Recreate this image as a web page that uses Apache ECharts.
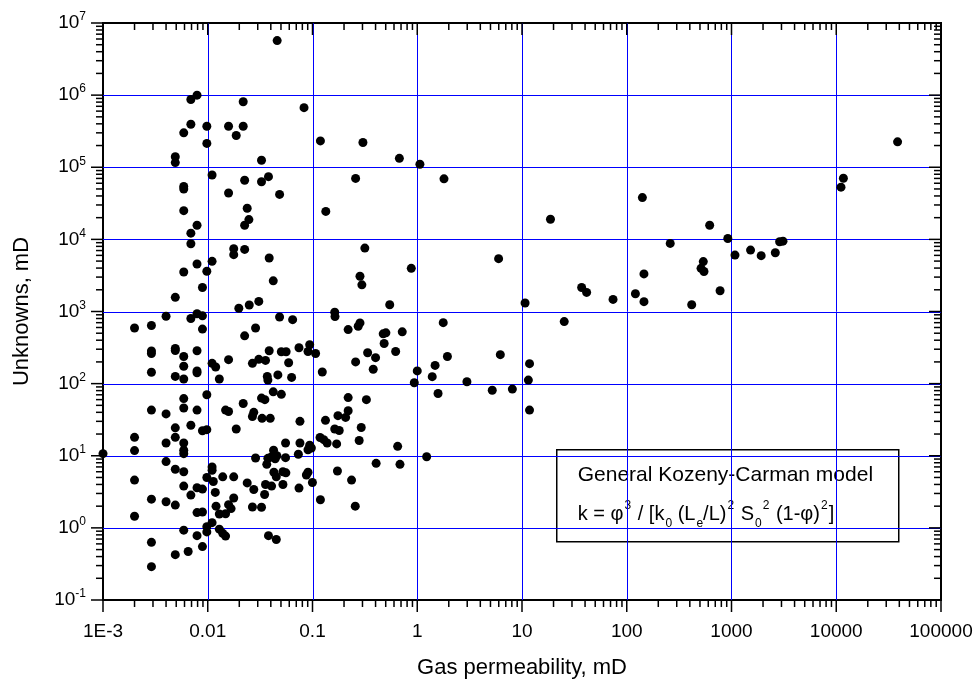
<!DOCTYPE html>
<html>
<head>
<meta charset="utf-8">
<title>Kozeny-Carman</title>
<script src="https://cdn.jsdelivr.net/npm/echarts@6/dist/echarts.min.js"></script>
<style>
  html, body { margin: 0; padding: 0; background: #fff; }
  #chart { width: 979px; height: 684px; }
</style>
</head>
<body>
<div id="chart"></div>
<script>
// tick labels
const xTickLabels = ['1E-3', '0.01', '0.1', '1', '10', '100', '1000', '10000', '100000']

// gas permeability, mD (x) and unknowns, mD (y)
const permeability = [
  0.046, 0.0079, 0.0069, 0.0218, 0.083, 0.0069, 0.0059, 0.0098, 0.0158, 0.0218,
  0.0187, 0.0098, 0.119, 0.0049, 0.0049, 0.0326, 0.011, 0.0225, 0.0326, 0.038,
  0.0059, 0.0059, 0.0158, 0.0485, 0.0059, 0.0238, 0.134, 0.0247, 0.0225, 0.0079,
  0.0069, 0.0069, 0.0177, 0.0177, 0.0225, 0.0386, 0.011, 0.0079, 0.0098, 0.0059,
  0.0422, 0.0089, 0.0049, 0.0198, 0.0249, 0.0307, 0.004, 0.0069, 0.0079, 0.0089,
  0.0485, 0.0646, 0.002, 0.0029, 0.0089, 0.0286, 0.0225, 0.0029, 0.0029, 0.0049,
  0.0049, 0.0059, 0.0079, 0.0386, 0.0504, 0.056, 0.0743, 0.094, 0.0906, 0.107,
  0.011, 0.0119, 0.0158, 0.0267, 0.0307, 0.0356, 0.0592, 0.0029, 0.0059, 0.0079,
  0.0079, 0.0049, 0.0059, 0.0129, 0.037, 0.0375, 0.0467, 0.0632, 0.124, 0.0098,
  0.0059, 0.0422, 0.0504, 0.0326, 0.0351, 0.0059, 0.0029, 0.004, 0.0079, 0.0148,
  0.0158, 0.0218, 0.0275, 0.0267, 0.033, 0.0395, 0.0759, 0.133, 0.0049, 0.0069,
  0.0089, 0.0098, 0.0187, 0.002, 0.0049, 0.004, 0.0059, 0.002, 0.0059, 0.0059,
  0.001, 0.0553, 0.0759, 0.118, 0.128, 0.138, 0.0425, 0.0906, 0.0975, 0.0733,
  0.0286, 0.0375, 0.0404, 0.044, 0.0366, 0.0457, 0.0553, 0.004, 0.011, 0.011,
  0.0049, 0.0059, 0.002, 0.0098, 0.0113, 0.0139, 0.0177, 0.0428, 0.0451, 0.0522,
  0.0557, 0.0906, 0.0874, 0.0238, 0.0356, 0.0407, 0.0522, 0.0998, 0.0059, 0.0079,
  0.0089, 0.0275, 0.0069, 0.0118, 0.0349, 0.0743, 0.0177, 0.119, 0.0029, 0.004,
  0.0049, 0.012, 0.0158, 0.0167, 0.0148, 0.0129, 0.0267, 0.0326, 0.0079, 0.0089,
  0.002, 0.011, 0.0098, 0.0098, 0.0059, 0.0129, 0.0139, 0.0148, 0.0079, 0.038,
  0.0451, 0.0029, 0.0089, 0.0065, 0.0049, 0.0029, 0.303, 0.675, 1.06, 0.258,
  1.8, 0.316, 0.877, 5.98, 0.284, 0.296, 0.546, 10.7, 0.163, 0.164,
  0.284, 0.273, 0.219, 1.77, 0.473, 0.502, 0.719, 0.483, 0.622, 0.336,
  0.4, 0.258, 0.38, 1.94, 1.48, 1.0, 1.39, 0.937, 2.98, 6.21,
  11.8, 11.5, 5.2, 8.09, 1.58, 11.8, 0.219, 0.327, 0.175, 0.207,
  0.219, 0.163, 0.18, 0.292, 0.279, 0.17, 0.094, 0.65, 1.23, 0.405,
  0.684, 0.173, 0.236, 0.256, 38500, 11700, 11100, 141, 18.7, 619,
  922, 260, 2880, 3100, 1520, 1080, 1920, 2620, 538, 512,
  546, 146, 37.1, 41.4, 74, 121, 146, 417, 778, 25.3
]
const unknowns = [
  5.7e6, 1.0e6, 8.7e5, 8.1e5, 6.7e5, 3.95e5, 3.0e5, 3.7e5, 3.7e5, 3.7e5,
  2.76e5, 2.14e5, 2.32e5, 1.4e5, 1.16e5, 1.25e5, 7.8e4, 6.6e4, 6.3e4, 7.4e4,
  5.4e4, 5.0e4, 4.4e4, 4.2e4, 2.5e4, 2.7e4, 2.44e4, 1.88e4, 1.57e4, 1.57e4,
  1.22e4, 8700, 7430, 6140, 7260, 5510, 4960, 4550, 3610, 3530,
  2660, 2150, 1570, 1110, 1230, 1380, 860, 800, 930, 870,
  840, 770, 590, 640, 570, 590, 460, 283, 262, 307,
  288, 238, 286, 286, 277, 277, 314, 346, 279, 262,
  191, 170, 215, 191, 217, 210, 195, 144, 174, 150,
  141, 126, 116, 116, 126, 112, 132, 122, 145, 70,
  62, 77, 71, 63, 60, 46, 43, 38, 43, 43,
  41, 53, 40, 35, 33, 33, 30, 31, 24.4, 26.5,
  22.2, 23, 23.5, 18, 18, 15, 15, 11.8, 11.9, 10.7,
  10.7, 15, 15, 17.9, 16.7, 15, 11.9, 12.1, 12.8, 10.5,
  9.3, 9.2, 9.6, 9.1, 7.6, 10, 9.4, 8.3, 7.0, 6.3,
  6.5, 6.0, 4.6, 5.0, 4.4, 5.1, 5.1, 5.9, 5.1, 6.0,
  5.8, 5.9, 5.4, 4.2, 4.0, 3.8, 4.0, 4.25, 3.8, 3.6,
  3.45, 3.4, 2.85, 3.1, 2.9, 3.56, 2.6, 2.45, 2.5, 2.3,
  2.07, 2.0, 2.1, 1.85, 1.57, 1.56, 1.95, 1.93, 1.63, 1.66,
  1.45, 1.18, 1.04, 0.88, 0.93, 0.96, 0.84, 0.77, 0.78, 0.78,
  0.69, 0.63, 0.55, 0.47, 0.425, 0.29, 2.2e5, 1.33e5, 1.1e5, 7.0e4,
  6.9e4, 7570, 3970, 5400, 3080, 2340, 1240, 1310, 975, 850,
  695, 625, 561, 700, 490, 506, 522, 360, 279, 268,
  229, 200, 158, 238, 179, 150, 125, 103, 106, 252,
  189, 112, 81, 84, 73, 43, 64, 60, 36, 34,
  42, 23.5, 22.4, 24.6, 16.3, 14.6, 14, 13.5, 9.7, 7.85,
  7.6, 6.15, 4.6, 2.0, 2.25e5, 7.05e4, 5.3e4, 3.8e4, 1.9e4, 1.57e4,
  1.03e4, 8800, 9270, 9440, 7100, 6060, 5940, 6530, 4920, 3970,
  3580, 3320, 2150, 1840, 1470, 1760, 1370, 1240, 1940, 724
]

const points = permeability.map((x, i) => [x, unknowns[i]])

// 对数轴刻度：主刻度（十进位）和次刻度（2..9）
const xTicks = []
const xGrid = []
for (let e = -3; e <= 5; e++) {
    xTicks.push([Math.pow(10, e), 1, 12])
    if (e > -3 && e < 5) xGrid.push([Math.pow(10, e), 1])
    if (e < 5) for (let m = 2; m < 10; m++) xTicks.push([m * Math.pow(10, e), 1, 7])
}
const yTicks = []
const yGrid = []
for (let e = -1; e <= 7; e++) {
    yTicks.push([1, Math.pow(10, e), 12])
    if (e > -1 && e < 7) yGrid.push([1, Math.pow(10, e)])
    if (e < 7) for (let m = 2; m < 10; m++) yTicks.push([1, m * Math.pow(10, e), 7])
}

const FONT = "'Liberation Sans', Arial, sans-serif"
const black = '#000'
const blue = '#0000ff'

const seg = (x1, y1, x2, y2, color, w) => ({
    type: 'line',
    shape: { x1, y1, x2, y2 },
    style: { stroke: color, lineWidth: w }
})

const chart = echarts.init(document.getElementById('chart'))

const option = {
    animation: false,
    backgroundColor: '#fff',
    grid: {
        left: 103, top: 23, width: 838, height: 580,
        show: true, borderColor: black, borderWidth: 2, backgroundColor: 'transparent'
    },
    xAxis: {
        type: 'log', logBase: 10, min: 0.001, max: 100000, splitNumber: 8,
        position: 'bottom',
        name: 'Gas permeability, mD', nameLocation: 'middle', nameGap: 57,
        nameTextStyle: { fontFamily: FONT, fontSize: 22, color: black },
        axisLine: { lineStyle: { color: black, width: 2 } },
        axisTick: { show: false },
        axisLabel: {
            margin: 22, fontFamily: FONT, fontSize: 19, color: black,
            formatter: v => xTickLabels[Math.round(Math.log10(v)) + 3]
        },
        splitLine: { show: false },
        minorTick: { show: false },
        minorSplitLine: { show: false }
    },
    yAxis: {
        type: 'log', logBase: 10, min: 0.1, max: 1e7, splitNumber: 8,
        position: 'left',
        name: 'Unknowns, mD', nameLocation: 'middle', nameGap: 70,
        nameTextStyle: { fontFamily: FONT, fontSize: 22, color: black },
        axisLine: { lineStyle: { color: black, width: 2 } },
        axisTick: { show: false },
        axisLabel: {
            margin: 17, color: black,
            formatter: v => '{b|10}{s|' + Math.round(Math.log10(v)) + '}',
            rich: {
                b: { fontFamily: FONT, fontSize: 19, color: black, lineHeight: 24 },
                s: { fontFamily: FONT, fontSize: 12, color: black, lineHeight: 14, verticalAlign: 'top' }
            }
        },
        splitLine: { show: false },
        minorTick: { show: false },
        minorSplitLine: { show: false }
    },
    series: [
        {
            // 蓝色网格线（竖线）
            type: 'custom', data: xGrid, silent: true, z: 1,
            renderItem(params, api) {
                const cs = params.coordSys
                const x = Math.round(api.coord([api.value(0), 1])[0]) + 0.5
                return seg(x, cs.y, x, cs.y + cs.height, blue, 1)
            }
        },
        {
            // 蓝色网格线（横线）
            type: 'custom', data: yGrid, silent: true, z: 1,
            renderItem(params, api) {
                const cs = params.coordSys
                const y = Math.round(api.coord([1, api.value(1)])[1]) + 0.5
                return seg(cs.x, y, cs.x + cs.width, y, blue, 1)
            }
        },
        {
            type: 'scatter',
            data: points,
            symbol: 'circle',
            symbolSize: 9,
            itemStyle: { color: black, opacity: 1 },
            z: 5
        },
        {
            // x 刻度：底部朝外，顶部朝内
            type: 'custom', data: xTicks, silent: true, z: 4,
            renderItem(params, api) {
                const cs = params.coordSys
                const x = api.coord([api.value(0), 1])[0]
                const len = api.value(2)
                const bottom = cs.y + cs.height
                return {
                    type: 'group',
                    children: [
                        seg(x, bottom, x, bottom + len, black, 1.5),
                        seg(x, cs.y, x, cs.y + len, black, 1.5)
                    ]
                }
            }
        },
        {
            // y 刻度：左侧朝外，右侧朝内
            type: 'custom', data: yTicks, silent: true, z: 4,
            renderItem(params, api) {
                const cs = params.coordSys
                const y = api.coord([1, api.value(1)])[1]
                const len = api.value(2)
                const right = cs.x + cs.width
                return {
                    type: 'group',
                    children: [
                        seg(cs.x - len, y, cs.x, y, black, 1.5),
                        seg(right - len, y, right, y, black, 1.5)
                    ]
                }
            }
        }
    ],
    graphic: [
        {
            type: 'group', left: 556, top: 449, z: 100,
            children: [
                {
                    type: 'rect',
                    shape: { x: 0, y: 0, width: 342, height: 92 },
                    style: { fill: '#fff', stroke: black, lineWidth: 1.5 }
                },
                {
                    type: 'text', x: 21, y: 15,
                    style: { text: 'General Kozeny-Carman model', font: '21px ' + FONT, fill: black }
                },
                {
                    type: 'text', x: 21, y: 50,
                    style: {
                        text: '{n|k = φ}{p|3}{n| / [k}{d|0}{n| (L}{d|e}{n|/L)}{p|2}{n| S}{d|0}{p|2}{n| (1-φ)}{p|2}{n|]}',
                        rich: {
                            n: { fontFamily: FONT, fontSize: 20, fill: black, lineHeight: 30 },
                            p: { fontFamily: FONT, fontSize: 12, fill: black, lineHeight: 16, verticalAlign: 'top', padding: [0, 1, 0, 1] },
                            d: { fontFamily: FONT, fontSize: 12, fill: black, lineHeight: 14, verticalAlign: 'bottom', padding: [0, 0, 0, 1] }
                        }
                    }
                }
            ]
        }
    ]
}

chart.setOption(option)
window.addEventListener('resize', () => chart.resize())
</script>
</body>
</html>
